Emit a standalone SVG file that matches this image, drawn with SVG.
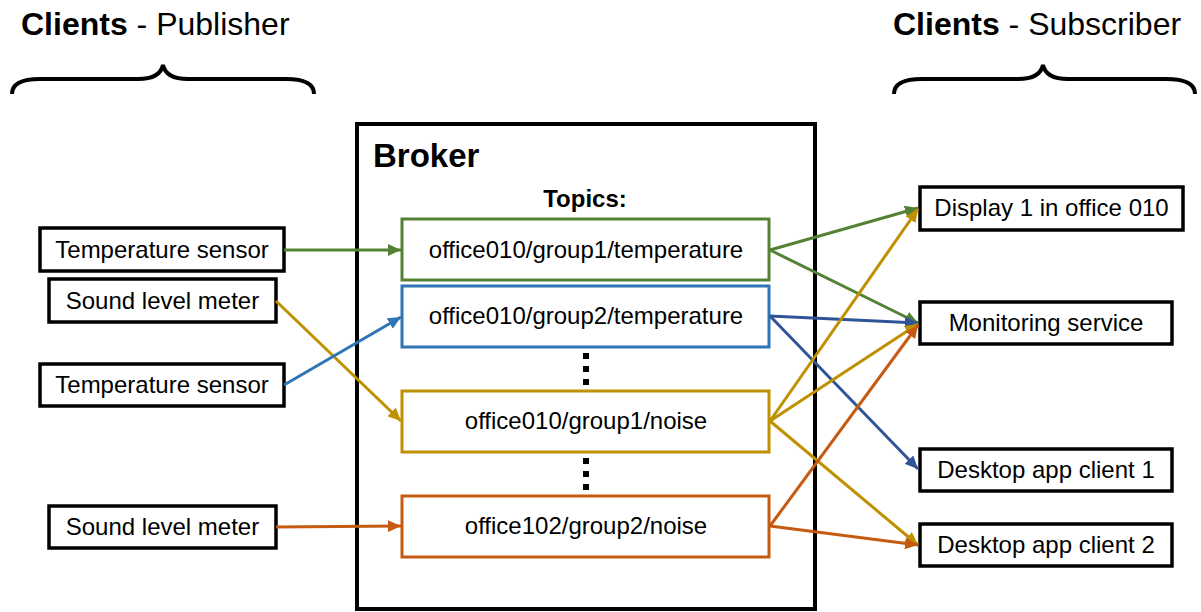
<svg xmlns="http://www.w3.org/2000/svg" width="1201" height="612" viewBox="0 0 1201 612">
<style>
.box{fill:#fff;stroke:#000;stroke-width:3.5}
.t{font-family:"Liberation Sans",Arial,sans-serif;font-size:24px;fill:#000;text-anchor:middle}
.h{font-family:"Liberation Sans",Arial,sans-serif;font-size:32px;fill:#000}
.c{fill:none;stroke-width:3}
.g{stroke:#548235}.b{stroke:#2e75b6}.bd{stroke:#2f5597}.y{stroke:#bf9000}.o{stroke:#c55a11}
</style>
<defs>
<marker id="ag" markerUnits="userSpaceOnUse" markerWidth="14" markerHeight="12" refX="13" refY="6" orient="auto"><path d="M0,0 L13,6 L0,12 Z" fill="#548235"/></marker>
<marker id="ab" markerUnits="userSpaceOnUse" markerWidth="14" markerHeight="12" refX="13" refY="6" orient="auto"><path d="M0,0 L13,6 L0,12 Z" fill="#2e75b6"/></marker>
<marker id="abd" markerUnits="userSpaceOnUse" markerWidth="14" markerHeight="12" refX="13" refY="6" orient="auto"><path d="M0,0 L13,6 L0,12 Z" fill="#2f5597"/></marker>
<marker id="ay" markerUnits="userSpaceOnUse" markerWidth="14" markerHeight="12" refX="13" refY="6" orient="auto"><path d="M0,0 L13,6 L0,12 Z" fill="#bf9000"/></marker>
<marker id="ao" markerUnits="userSpaceOnUse" markerWidth="14" markerHeight="12" refX="13" refY="6" orient="auto"><path d="M0,0 L13,6 L0,12 Z" fill="#c55a11"/></marker>
</defs>
<rect width="1201" height="612" fill="#fff"/>

<g id="header-publisher">
<text class="h" x="21" y="35"><tspan font-weight="bold">Clients</tspan> - Publisher</text>
<path d="M12,94 Q12,79 40,79 L138,79 Q160,79 163,65 Q166,79 188,79 L286,79 Q314,79 314,94" fill="none" stroke="#000" stroke-width="4"/>
</g>
<g id="header-subscriber">
<text class="h" x="893" y="35"><tspan font-weight="bold">Clients</tspan> - Subscriber</text>
<path d="M894,94 Q894,79 922,79 L1018,79 Q1040,79 1043,65 Q1046,79 1068,79 L1166,79 Q1195,79 1195,94" fill="none" stroke="#000" stroke-width="4"/>
</g>

<g id="broker">
<rect x="357" y="124" width="458" height="485" fill="#fff" stroke="#000" stroke-width="4"/>
<text x="373" y="167" font-family="'Liberation Sans',Arial,sans-serif" font-size="33" font-weight="bold">Broker</text>
<text x="585" y="207" font-family="'Liberation Sans',Arial,sans-serif" font-size="24" font-weight="bold" text-anchor="middle">Topics:</text>
<g fill="#000">
<rect x="583" y="353" width="6" height="6"/><rect x="583" y="366" width="6" height="6"/><rect x="583" y="379" width="6" height="6"/>
<rect x="583" y="458" width="6" height="6"/><rect x="583" y="471" width="6" height="6"/><rect x="583" y="484" width="6" height="6"/>
</g>
</g>

<g id="topic-o010-g1-temp">
<rect x="402" y="219" width="367" height="61" fill="#fff" stroke="#548235" stroke-width="3"/>
<text class="t" x="586" y="258">office010/group1/temperature</text>
</g>
<g id="topic-o010-g2-temp">
<rect x="402" y="286" width="367" height="61" fill="#fff" stroke="#2e75b6" stroke-width="3"/>
<text class="t" x="586" y="324">office010/group2/temperature</text>
</g>
<g id="topic-o010-g1-noise">
<rect x="402" y="391" width="367" height="61" fill="#fff" stroke="#bf9000" stroke-width="3"/>
<text class="t" x="586" y="429">office010/group1/noise</text>
</g>
<g id="topic-o102-g2-noise">
<rect x="402" y="496" width="367" height="61" fill="#fff" stroke="#c55a11" stroke-width="3"/>
<text class="t" x="586" y="534">office102/group2/noise</text>
</g>

<g id="pub-temp1"><rect class="box" x="40" y="228" width="244" height="43"/><text class="t" x="162" y="258">Temperature sensor</text></g>
<g id="pub-sound1"><rect class="box" x="49" y="279" width="227" height="43"/><text class="t" x="162.5" y="309">Sound level meter</text></g>
<g id="pub-temp2"><rect class="box" x="40" y="364" width="244" height="42"/><text class="t" x="162" y="393">Temperature sensor</text></g>
<g id="pub-sound2"><rect class="box" x="49" y="506" width="227" height="42"/><text class="t" x="162.5" y="535">Sound level meter</text></g>

<g id="sub-display"><rect class="box" x="920" y="187" width="263" height="43"/><text class="t" x="1051.5" y="216">Display 1 in office 010</text></g>
<g id="sub-monitor"><rect class="box" x="920" y="302" width="252" height="42"/><text class="t" x="1046" y="331">Monitoring service</text></g>
<g id="sub-desktop1"><rect class="box" x="920" y="449" width="252" height="42"/><text class="t" x="1046" y="478">Desktop app client 1</text></g>
<g id="sub-desktop2"><rect class="box" x="920" y="524" width="252" height="42"/><text class="t" x="1046" y="553">Desktop app client 2</text></g>

<g id="connectors">
<line class="c g" x1="284" y1="250" x2="401" y2="250" marker-end="url(#ag)"/>
<line class="c y" x1="276" y1="301" x2="401" y2="421" marker-end="url(#ay)"/>
<line class="c b" x1="284" y1="385" x2="401" y2="317" marker-end="url(#ab)"/>
<line class="c o" x1="276" y1="527" x2="401" y2="526" marker-end="url(#ao)"/>

<line class="c g" x1="770" y1="250" x2="918" y2="208" marker-end="url(#ag)"/>
<line class="c g" x1="770" y1="250" x2="918" y2="323" marker-end="url(#ag)"/>
<line class="c bd" x1="770" y1="316" x2="918" y2="323" marker-end="url(#abd)"/>
<line class="c bd" x1="770" y1="316" x2="918" y2="469" marker-end="url(#abd)"/>
<line class="c y" x1="770" y1="421" x2="918" y2="209" marker-end="url(#ay)"/>
<line class="c y" x1="770" y1="421" x2="918" y2="324" marker-end="url(#ay)"/>
<line class="c y" x1="770" y1="421" x2="918" y2="545" marker-end="url(#ay)"/>
<line class="c o" x1="770" y1="526" x2="918" y2="325" marker-end="url(#ao)"/>
<line class="c o" x1="770" y1="526" x2="918" y2="545" marker-end="url(#ao)"/>
</g>
</svg>
